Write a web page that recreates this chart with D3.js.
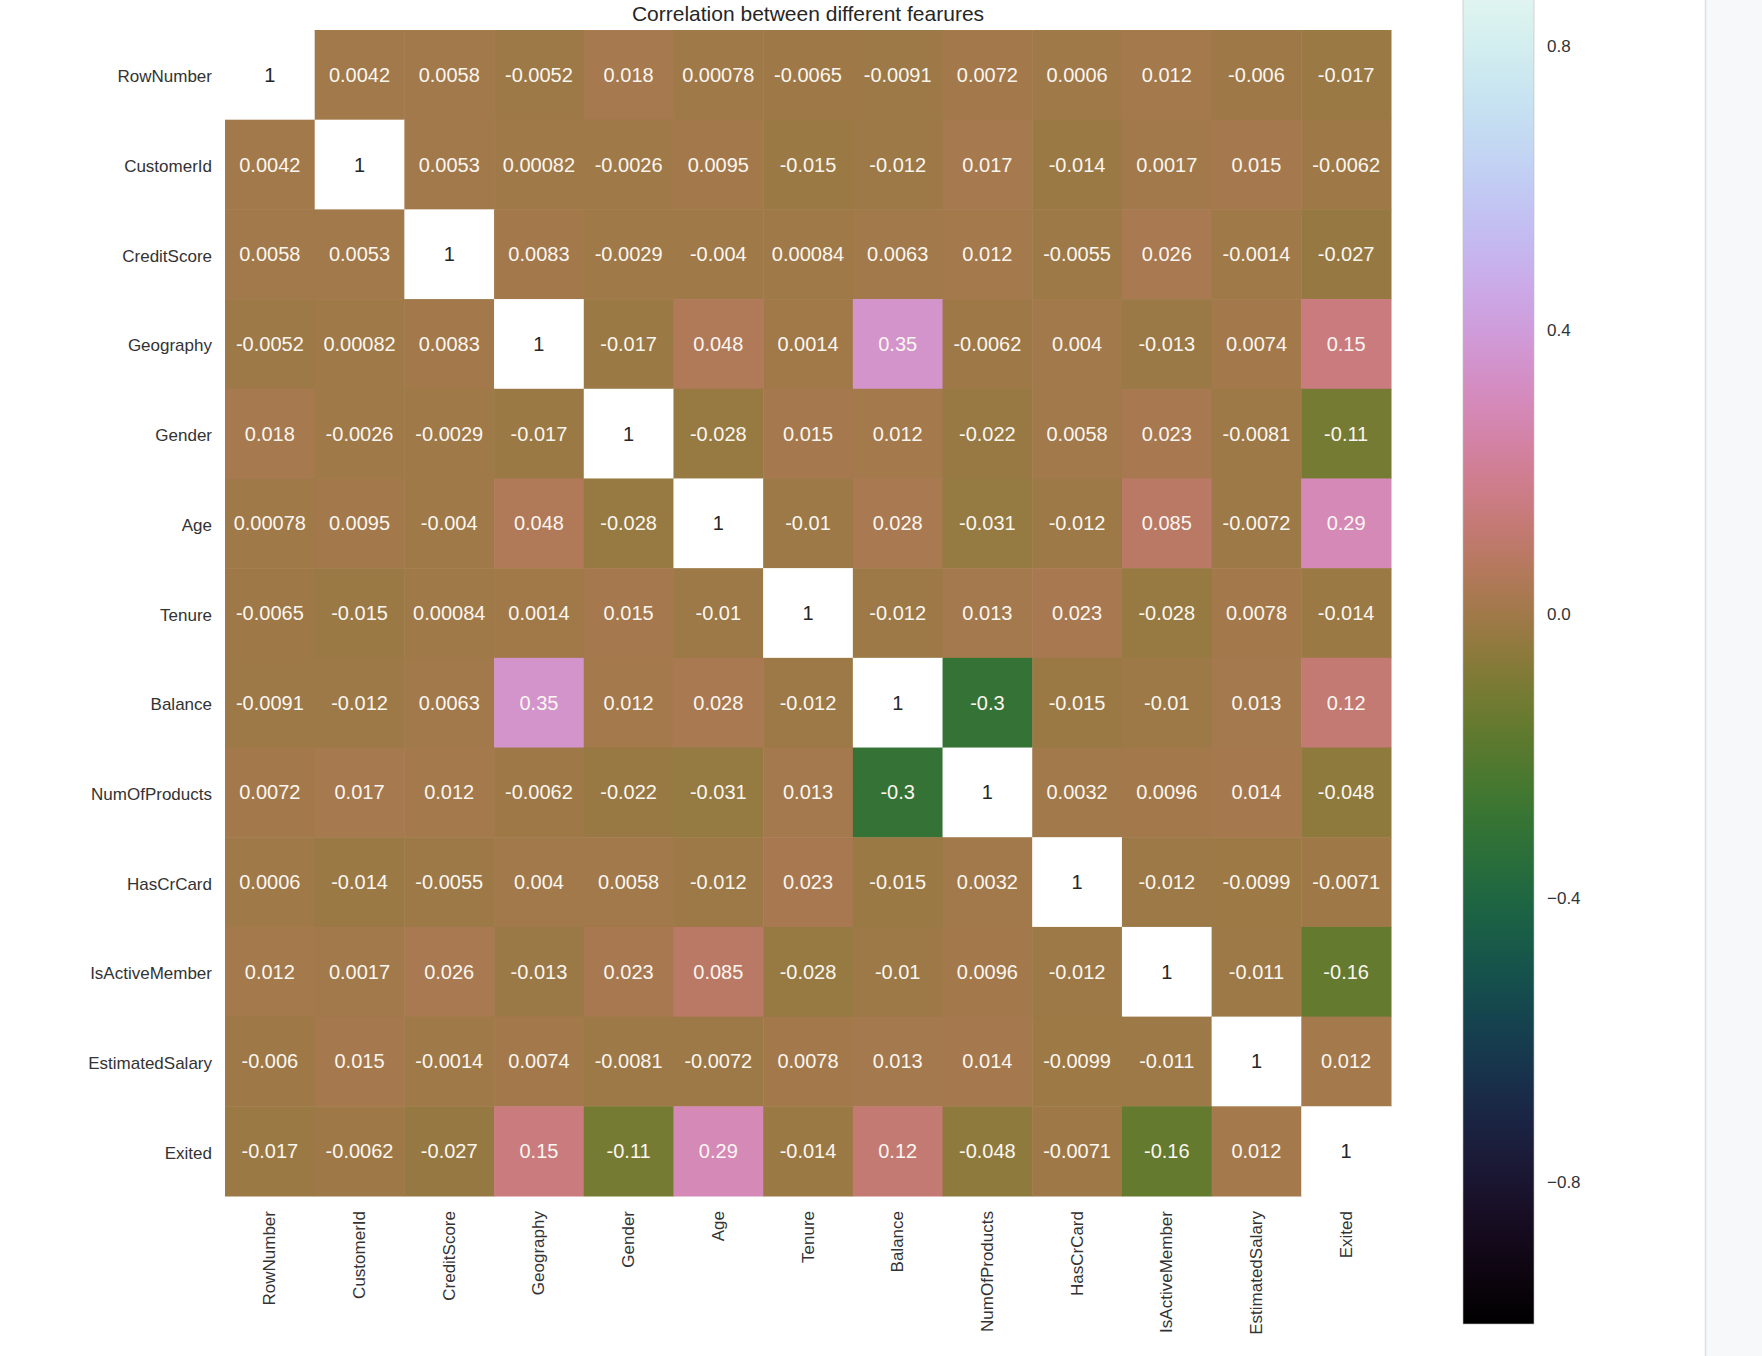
<!DOCTYPE html>
<html>
<head>
<meta charset="utf-8">
<script src="https://cdn.jsdelivr.net/npm/d3@7"></script>
<style>
  body { margin: 0; background: #ffffff; }
  text { font-family: "Liberation Sans", Arial, sans-serif; }
</style>
</head>
<body>
<div id="chart-container"></div>
<script>
// CORRELATION HEATMAP

// Data

var features = ["RowNumber", "CustomerId", "CreditScore", "Geography", "Gender", "Age", "Tenure",
                "Balance", "NumOfProducts", "HasCrCard", "IsActiveMember", "EstimatedSalary", "Exited"];

var rowNumber       = [1, 0.0042, 0.0058, -0.0052, 0.018, 0.00078, -0.0065, -0.0091, 0.0072, 0.0006, 0.012, -0.006, -0.017];
var customerId      = [0.0042, 1, 0.0053, 0.00082, -0.0026, 0.0095, -0.015, -0.012, 0.017, -0.014, 0.0017, 0.015, -0.0062];
var creditScore     = [0.0058, 0.0053, 1, 0.0083, -0.0029, -0.004, 0.00084, 0.0063, 0.012, -0.0055, 0.026, -0.0014, -0.027];
var geography       = [-0.0052, 0.00082, 0.0083, 1, -0.017, 0.048, 0.0014, 0.35, -0.0062, 0.004, -0.013, 0.0074, 0.15];
var gender          = [0.018, -0.0026, -0.0029, -0.017, 1, -0.028, 0.015, 0.012, -0.022, 0.0058, 0.023, -0.0081, -0.11];
var age             = [0.00078, 0.0095, -0.004, 0.048, -0.028, 1, -0.01, 0.028, -0.031, -0.012, 0.085, -0.0072, 0.29];
var tenure          = [-0.0065, -0.015, 0.00084, 0.0014, 0.015, -0.01, 1, -0.012, 0.013, 0.023, -0.028, 0.0078, -0.014];
var balance         = [-0.0091, -0.012, 0.0063, 0.35, 0.012, 0.028, -0.012, 1, -0.3, -0.015, -0.01, 0.013, 0.12];
var numOfProducts   = [0.0072, 0.017, 0.012, -0.0062, -0.022, -0.031, 0.013, -0.3, 1, 0.0032, 0.0096, 0.014, -0.048];
var hasCrCard       = [0.0006, -0.014, -0.0055, 0.004, 0.0058, -0.012, 0.023, -0.015, 0.0032, 1, -0.012, -0.0099, -0.0071];
var isActiveMember  = [0.012, 0.0017, 0.026, -0.013, 0.023, 0.085, -0.028, -0.01, 0.0096, -0.012, 1, -0.011, -0.16];
var estimatedSalary = [-0.006, 0.015, -0.0014, 0.0074, -0.0081, -0.0072, 0.0078, 0.013, 0.014, -0.0099, -0.011, 1, 0.012];
var exited          = [-0.017, -0.0062, -0.027, 0.15, -0.11, 0.29, -0.014, 0.12, -0.048, -0.0071, -0.16, 0.012, 1];

var rows = [rowNumber, customerId, creditScore, geography, gender, age, tenure,
            balance, numOfProducts, hasCrCard, isActiveMember, estimatedSalary, exited];

var colorbarTicks = [0.8, 0.4, 0.0, -0.4, -0.8];

var title = "Correlation between different fearures";

// Chart variables

var width = 1762;
var height = 1356;
var heat = {left: 225, right: 1391, top: 30, bottom: 1196};
var bar = {left: 1463, right: 1534, top: -95, bottom: 1324};

// Unpacking the matrix into cells

var cells = [];
for (var i = 0; i < rows.length; i++) {
    for (var j = 0; j < rows[i].length; j++) {
        cells.push({row: features[i], col: features[j], value: rows[i][j]});
    }
}

// Creating the svg

var svg = d3.select("#chart-container")
            .append("svg")
            .attr("width", width)
            .attr("height", height);

// Side panel of the page on the right

svg.append("rect")
   .attr("x", 1705).attr("y", 0)
   .attr("width", width - 1705).attr("height", height)
   .attr("fill", "#f6f8fa");

svg.append("line")
   .attr("x1", 1705.5).attr("x2", 1705.5)
   .attr("y1", 0).attr("y2", height)
   .attr("stroke", "#dcdfe3")
   .attr("stroke-width", 1.5);

// Creating the scales

var x = d3.scaleBand()
          .domain(features)
          .range([heat.left, heat.right]);

var y = d3.scaleBand()
          .domain(features)
          .range([heat.top, heat.bottom]);

var color = d3.scaleSequential(d3.interpolateCubehelixDefault)
              .domain([-1, 1]);

// Text colour the way seaborn picks it (relative luminance)

function textColor(c) {
    var rgb = d3.rgb(c);
    var lin = [rgb.r, rgb.g, rgb.b].map(function(v) {
        v = v / 255;
        return v <= 0.03928 ? v / 12.92 : Math.pow((v + 0.055) / 1.055, 2.4);
    });
    var lum = 0.2126 * lin[0] + 0.7152 * lin[1] + 0.0722 * lin[2];
    return lum > 0.408 ? "#262626" : "#fbf6f0";
}

// Creating the cells

svg.append("g")
   .selectAll("rect")
   .data(cells)
   .enter()
   .append("rect")
   .attr("x", function(d) { return x(d.col); })
   .attr("y", function(d) { return y(d.row); })
   .attr("width", x.bandwidth() + 0.5)
   .attr("height", y.bandwidth() + 0.5)
   .attr("fill", function(d) { return color(d.value); });

// Annotations

svg.append("g")
   .selectAll("text")
   .data(cells)
   .enter()
   .append("text")
   .attr("x", function(d) { return x(d.col) + x.bandwidth() / 2; })
   .attr("y", function(d) { return y(d.row) + y.bandwidth() / 2; })
   .attr("text-anchor", "middle")
   .attr("dominant-baseline", "central")
   .attr("font-size", "20px")
   .attr("fill", function(d) { return textColor(color(d.value)); })
   .text(function(d) { return String(d.value); });

// Row labels

svg.append("g")
   .selectAll("text")
   .data(features)
   .enter()
   .append("text")
   .attr("x", heat.left - 13)
   .attr("y", function(d) { return y(d) + y.bandwidth() / 2 + 2; })
   .attr("text-anchor", "end")
   .attr("dominant-baseline", "central")
   .attr("font-size", "17px")
   .attr("fill", "#333")
   .text(function(d) { return d; });

// Column labels (rotated)

svg.append("g")
   .selectAll("text")
   .data(features)
   .enter()
   .append("text")
   .attr("transform", function(d) {
       return "translate(" + (x(d) + x.bandwidth() / 2) + "," + (heat.bottom + 15) + ") rotate(-90)";
   })
   .attr("text-anchor", "end")
   .attr("dominant-baseline", "central")
   .attr("font-size", "17px")
   .attr("fill", "#333")
   .text(function(d) { return d; });

// Title

svg.append("text")
   .attr("x", (heat.left + heat.right) / 2)
   .attr("y", 13)
   .attr("text-anchor", "middle")
   .attr("dominant-baseline", "central")
   .attr("font-size", "21px")
   .attr("fill", "#262626")
   .text(title);

// Colorbar

var cb = d3.scaleLinear()
           .domain([-1, 1])
           .range([bar.bottom, bar.top]);

var grad = svg.append("defs")
              .append("linearGradient")
              .attr("id", "cbar")
              .attr("x1", 0).attr("x2", 0)
              .attr("y1", 1).attr("y2", 0);

grad.selectAll("stop")
    .data(d3.range(0, 1.0001, 0.02))
    .enter()
    .append("stop")
    .attr("offset", function(d) { return d; })
    .attr("stop-color", function(d) { return color(-1 + 2 * d); });

svg.append("rect")
   .attr("x", bar.left)
   .attr("y", bar.top)
   .attr("width", bar.right - bar.left)
   .attr("height", bar.bottom - bar.top)
   .attr("fill", "url(#cbar)")
   .attr("stroke", "#bbb")
   .attr("stroke-width", 0.6);

svg.append("g")
   .selectAll("text")
   .data(colorbarTicks)
   .enter()
   .append("text")
   .attr("x", bar.right + 13)
   .attr("y", function(d) { return cb(d); })
   .attr("dominant-baseline", "central")
   .attr("font-size", "17px")
   .attr("fill", "#333")
   .text(function(d) { return d < 0 ? "\u2212" + Math.abs(d).toFixed(1) : d.toFixed(1); });
</script>
</body>
</html>
